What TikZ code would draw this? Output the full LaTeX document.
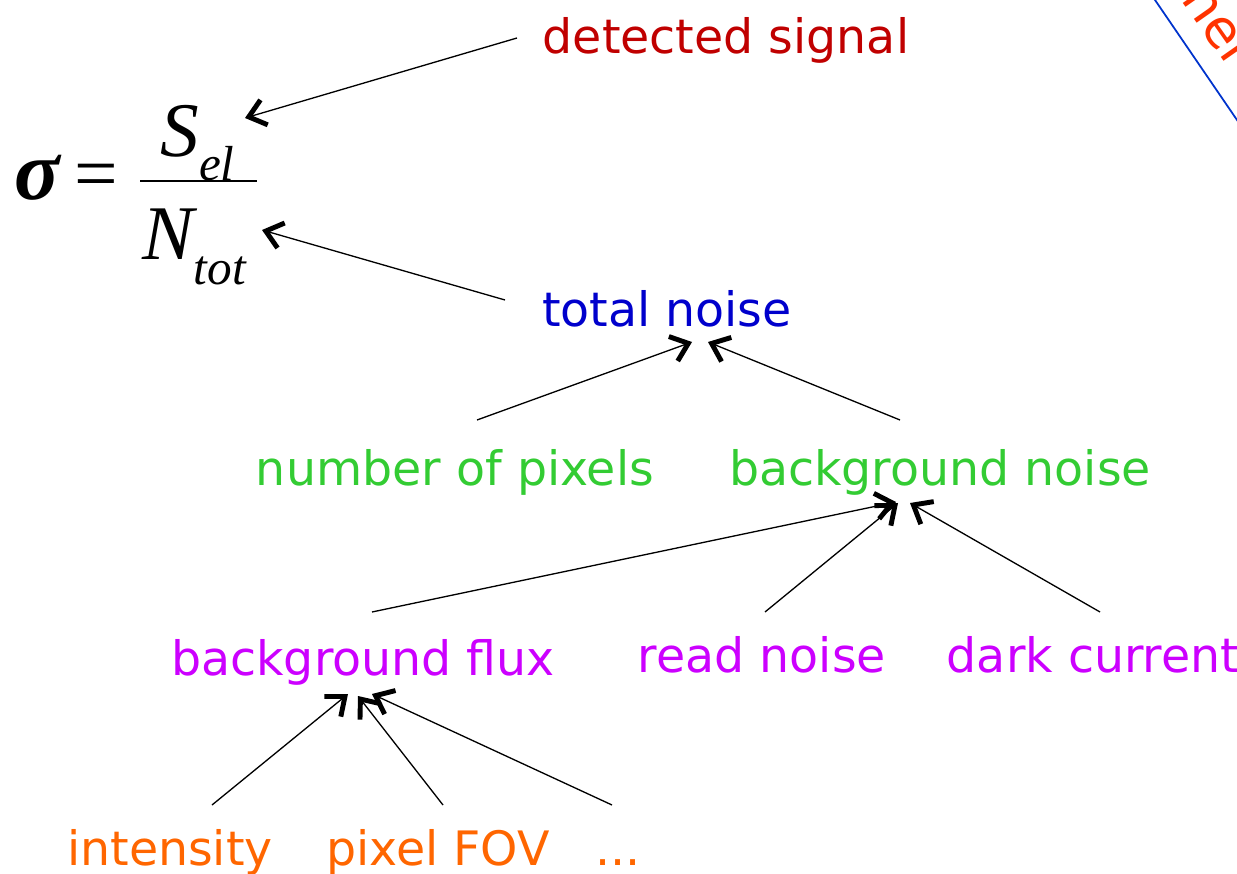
\documentclass[tikz,border=0pt]{standalone}
\usepackage{fontspec}
\setmainfont{DejaVu Sans}
\newfontfamily\formulafont{Liberation Serif}
\usetikzlibrary{arrows.meta,calc}
\definecolor{sigred}{HTML}{C00000}
\definecolor{noiseblue}{HTML}{0000CC}
\definecolor{levgreen}{HTML}{33CC33}
\definecolor{levviolet}{HTML}{CC00FF}
\definecolor{levorange}{HTML}{FF6600}
\definecolor{sidered}{HTML}{FF3300}
\definecolor{sideblue}{HTML}{0033CC}
\tikzset{
  lbl/.style={anchor=base, inner sep=0pt, font=\fontsize{27}{32}\selectfont},
  frm/.style={anchor=base west, inner sep=0pt},
  arr/.style={line width=0.75pt, -{Straight Barb[length=0.32cm, width=0.52cm, line width=2.8pt]}},
}
\begin{document}
\begin{tikzpicture}[x=0.02cm, y=-0.02cm]
\useasboundingbox (0,0) rectangle (1237,874);
\clip (0,0) rectangle (1237,874);

% formula
\node[frm, font=\formulafont\fontsize{48}{50}\selectfont\bfseries\itshape] (sig) at (14,200) {σ};
\node[frm, font=\formulafont\fontsize{44}{50}\selectfont] (eq) at (74,200) {=};
\node[frm, font=\formulafont\fontsize{44}{50}\selectfont\itshape] (sel) at (160,157)
  {S\raisebox{-0.3em}{\fontsize{28}{30}\selectfont el}};
\node[frm, font=\formulafont\fontsize{44}{50}\selectfont\itshape] (ntot) at (142,260)
  {N\raisebox{-0.32em}{\fontsize{28}{30}\selectfont tot}};
\draw[line width=1.1pt] (140,181) -- (257,181);

% labels
\node[lbl, text=sigred] (ds) at (726,54) {detected signal};
\node[lbl, text=noiseblue] (tn) at (667,327) {total noise};
\node[lbl, text=levgreen] (np) at (455,485) {number of pixels};
\node[lbl, text=levgreen] (bn) at (940,485) {background noise};
\node[lbl, text=levviolet] (bf) at (363,675) {background flux};
\node[lbl, text=levviolet] (rn) at (762,672) {read noise};
\node[lbl, text=levviolet] (dc) at (1093,672) {dark current};
\node[lbl, text=levorange] (int) at (170,865) {intensity};
\node[lbl, text=levorange] (fov) at (438,865) {pixel FOV};
\node[lbl, text=levorange] (dots) at (618,865) {...};

% side note, cut by the page edge
\coordinate (sa) at (1155,0);
\coordinate (sb) at (1237,120);
\draw[sideblue, line width=1pt] ($(sa)!-0.2!(sb)$) -- ($(sa)!1.2!(sb)$);
\node[lbl, text=sidered, rotate=-55, anchor=base west, font=\fontsize{30}{34}\selectfont] (side) at (1150,-44) {other};

% connectors
\draw[arr] ($(ds.base)+(-209,-16)$) -- ($(sel.base west)+(85,-39)$);
\draw[arr] ($(tn.base)+(-162,-27)$) -- ($(ntot.base west)+(120,-30)$);
\draw[arr] ($(np.base)+(22,-65)$) -- ($(tn.base)+(25,15)$);
\draw[arr] ($(bn.base)+(-40,-65)$) -- ($(tn.base)+(41,15)$);
\draw[arr] ($(bf.base)+(9,-63)$) -- ($(bn.base)+(-44,17)$);
\draw[arr] ($(rn.base)+(3,-60)$) -- ($(bn.base)+(-42,18)$);
\draw[arr] ($(dc.base)+(7,-60)$) -- ($(bn.base)+(-30,18)$);
\draw[arr] ($(int.base)+(42,-60)$) -- ($(bf.base)+(-15,19)$);
\draw[arr] ($(fov.base)+(5,-60)$) -- ($(bf.base)+(-5,21)$);
\draw[arr] ($(dots.base)+(-6,-60)$) -- ($(bf.base)+(9,19)$);
\end{tikzpicture}
\end{document}
